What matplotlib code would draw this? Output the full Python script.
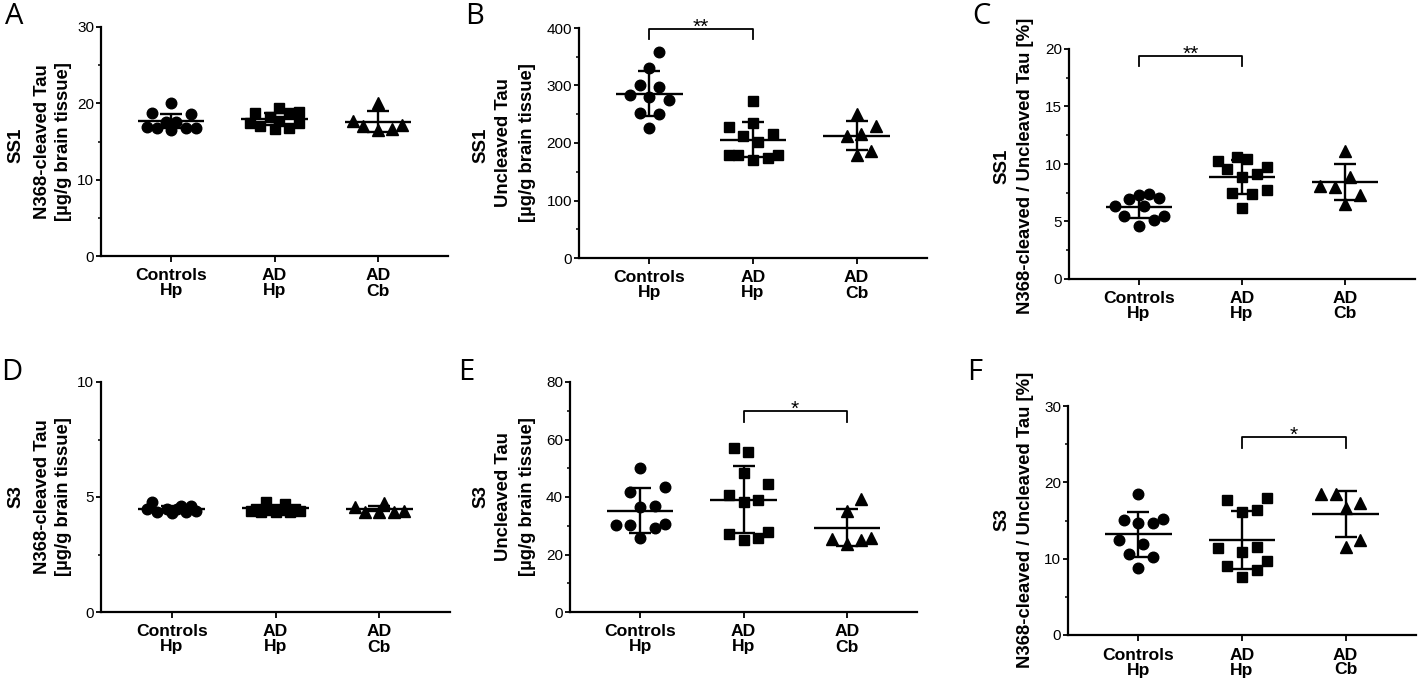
import numpy as np
import matplotlib
matplotlib.use("Agg")
import matplotlib.pyplot as plt
from matplotlib.ticker import MultipleLocator

plt.rcParams['font.family'] = ['Liberation Sans', 'DejaVu Sans']

categories = ["Controls\nHp", "AD\nHp", "AD\nCb"]
markers = ["o", "s", "^"]

# ---- Panel A: SS1, N368-cleaved Tau [ug/g] ----
a_ctrl = [17.5, 18.65, 18.7, 20.0, 17.5, 16.8, 16.8, 16.5, 16.8, 16.9]
a_adhp = [18.2, 19.35, 18.7, 18.7, 18.9, 17.7, 17.4, 17.0, 16.7, 16.8, 17.4]
a_adcb = [17.7, 20.0, 17.0, 16.5, 16.7, 17.2]
a_mean = [17.7, 17.95, 17.6]
a_sd = [0.95, 0.8, 1.4]

# ---- Panel B: SS1, Uncleaved Tau [ug/g] ----
b_ctrl = [358, 331, 297, 301, 280, 274, 284, 251, 253, 226]
b_adhp = [273, 235, 227, 213, 216, 202, 180, 179, 171, 174, 180]
b_adcb = [251, 229, 215, 212, 186, 179]
b_mean = [286, 206, 213]
b_sd = [38.5, 30.5, 26]

# ---- Panel C: SS1, ratio [%] ----
c_ctrl = [7.39, 7.04, 6.96, 7.28, 6.32, 6.32, 5.51, 5.1, 5.51, 4.64]
c_adhp = [9.59, 10.43, 10.29, 10.61, 9.71, 8.84, 9.16, 7.71, 7.42, 7.48, 6.17]
c_adcb = [11.1, 8.87, 8.06, 7.97, 7.33, 6.52]
c_mean = [6.23, 8.87, 8.41]
c_sd = [0.95, 1.48, 1.56]

# ---- Panel D: S3, N368-cleaved Tau [ug/g] ----
d_ctrl = [4.46, 4.46, 4.61, 4.32, 4.78, 4.49, 4.38, 4.61, 4.35, 4.35]
d_adhp = [4.78, 4.71, 4.49, 4.42, 4.35, 4.39, 4.46, 4.39, 4.35, 4.35, 4.42]
d_adcb = [4.57, 4.74, 4.35, 4.35, 4.35, 4.38]
d_mean = [4.49, 4.52, 4.49]
d_sd = [0.1, 0.12, 0.12]

# ---- Panel E: S3, Uncleaved Tau [ug/g] ----
e_ctrl = [50.2, 41.9, 43.4, 36.9, 36.6, 30.5, 30.1, 29.1, 30.1, 25.6]
e_adhp = [57.2, 55.6, 48.5, 44.5, 38.95, 38.3, 40.7, 27.0, 25.0, 25.8, 27.9]
e_adcb = [39.2, 35.1, 25.3, 23.6, 25.0, 25.6]
e_mean = [35.3, 39.1, 29.3]
e_sd = [7.8, 11.6, 6.5]

# ---- Panel F: S3, ratio [%] ----
f_ctrl = [18.45, 15.05, 14.7, 14.7, 15.26, 12.5, 11.9, 10.6, 10.16, 8.8]
f_adhp = [17.75, 18.0, 16.14, 16.44, 11.47, 10.82, 11.34, 9.03, 9.68, 8.5, 7.63]
f_adcb = [18.45, 18.45, 17.3, 16.66, 12.5, 11.56]
f_mean = [13.2, 12.43, 15.87]
f_sd = [2.93, 3.84, 3.01]

# significance: (group1, group2, bracket y, leg bottom y, label)
b_sig = (0, 1, 398, 380, "**")
c_sig = (0, 1, 19.36, 18.55, "**")
e_sig = (1, 2, 69.8, 66.0, "*")
f_sig = (1, 2, 25.9, 24.55, "*")

W, H = 1418, 687
fig = plt.figure(figsize=(W / 100, H / 100), dpi=100)


def px_rect(left, top, right, bottom):
    return [left / W, 1 - bottom / H, (right - left) / W, (bottom - top) / H]


def swarm(ax, x0, vals, diam, cap, yfac=2.2, xfac=1.25):
    """Deterministic scatter spreading (GraphPad-like) in pixel space."""
    trans = ax.transData
    ypx = np.array([trans.transform((x0, v))[1] for v in vals])
    xs = trans.transform((1, 0))[0] - trans.transform((0, 0))[0]
    capx = cap * xs
    step = diam * 0.5
    n = int(capx // step)
    cands = [0.0]
    for k in range(1, n + 1):
        cands += [k * step, -k * step]
    dxm, dym = diam * xfac, diam * yfac
    placed = []
    offs = np.zeros(len(vals))
    for i in np.argsort(ypx):
        best, bestd, chosen = 0.0, -1, None
        for c in cands:
            d = min([np.hypot((c - px) / dxm, (ypx[i] - py) / dym) for px, py in placed],
                    default=1e9)
            if d >= 1.0:
                chosen = c
                break
            if d > bestd + 1e-9:
                bestd, best = d, c
        if chosen is None:
            chosen = best
        placed.append((chosen, ypx[i]))
        offs[i] = chosen / xs
    return x0 + offs


def panel(rect, groups, means, sds, ylim, major, minor, letter, letter_xy,
          row_label, ylines, ylabel_xy, sig=None):
    ax = fig.add_axes(px_rect(*rect))
    ax.set_xlim(-0.68, 2.68)
    ax.set_ylim(*ylim)
    for s in ["top", "right"]:
        ax.spines[s].set_visible(False)
    for s in ["left", "bottom"]:
        ax.spines[s].set_linewidth(1.6)
    ax.yaxis.set_major_locator(MultipleLocator(major))
    ax.yaxis.set_minor_locator(MultipleLocator(minor))
    ax.tick_params(axis="y", which="major", length=3.5, width=1.3, labelsize=11,
                   pad=1.5, direction="out")
    ax.tick_params(axis="y", which="minor", length=2.2, width=1.1, direction="out")
    ax.set_xticks(range(3))
    ax.set_xticklabels(categories, fontsize=12.6, fontweight="bold", linespacing=1.0)
    ax.tick_params(axis="x", length=4, width=1.3, pad=5)

    sizes = [7.6, 7.3, 8.6]
    for i, vals in enumerate(groups):
        xs = swarm(ax, i, vals, 9.8, 0.28)
        ax.plot(xs, vals, linestyle="none", marker=markers[i], ms=sizes[i],
                color="black", mec="black", zorder=3, clip_on=False)
        ax.hlines(means[i], i - 0.32, i + 0.32, color="black", lw=1.7, zorder=4)
        ax.errorbar(i, means[i], yerr=sds[i], fmt="none", ecolor="black",
                    elinewidth=1.7, capsize=8, capthick=1.7, zorder=4)

    if sig is not None:
        g1, g2, yb, yl, lab = sig
        ax.plot([g1, g1, g2, g2], [yl, yb, yb, yl], color="black", lw=1.3,
                clip_on=False, zorder=5)
        ax.annotate(lab, xy=((g1 + g2) / 2, yb), xytext=(0, -3.5),
                    textcoords="offset pixels", ha="center", va="baseline",
                    fontsize=15, annotation_clip=False)

    fig.text(letter_xy[0] / W, 1 - letter_xy[1] / H, letter, fontsize=21,
             family=["Open Sans", "DejaVu Sans"], ha="center", va="center")
    fig.text(ylabel_xy[0][0] / W, 1 - ylabel_xy[0][1] / H, row_label, rotation=90,
             fontsize=13.5, fontweight="bold", ha="center", va="center")
    for (lx, ly), txt in zip(ylabel_xy[1:], ylines):
        fig.text(lx / W, 1 - ly / H, txt, rotation=90, fontsize=13.3,
                 fontweight="bold", ha="center", va="center")
    return ax


panel((101, 27, 448, 256), [a_ctrl, a_adhp, a_adcb], a_mean, a_sd, (0, 30), 10, 5,
      "A", (14, 17), "SS1", ["N368-cleaved Tau", "[µg/g brain tissue]"],
      [(16, 145), (43, 142), (63, 142)])
panel((579, 28, 927, 258), [b_ctrl, b_adhp, b_adcb], b_mean, b_sd, (0, 400), 100, 50,
      "B", (475, 17), "SS1", ["Uncleaved Tau", "[µg/g brain tissue]"],
      [(481, 145), (504, 143), (527, 143)], sig=b_sig)
panel((1069, 49, 1415, 279), [c_ctrl, c_adhp, c_adcb], c_mean, c_sd, (0, 20), 5, 2.5,
      "C", (981, 16), "SS1", ["N368-cleaved / Uncleaved Tau [%]"],
      [(1002, 166), (1026, 166)], sig=c_sig)
panel((101, 382, 450, 612), [d_ctrl, d_adhp, d_adcb], d_mean, d_sd, (0, 10), 5, 2.5,
      "D", (12, 372), "S3", ["N368-cleaved Tau", "[µg/g brain tissue]"],
      [(16, 497), (43, 497), (63, 497)])
panel((570, 382, 917, 612), [e_ctrl, e_adhp, e_adcb], e_mean, e_sd, (0, 80), 20, 10,
      "E", (466, 372), "S3", ["Uncleaved Tau", "[µg/g brain tissue]"],
      [(481, 497), (504, 497), (527, 497)], sig=e_sig)
panel((1068, 406, 1416, 635), [f_ctrl, f_adhp, f_adcb], f_mean, f_sd, (0, 30), 10, 5,
      "F", (975, 373), "S3", ["N368-cleaved / Uncleaved Tau [%]"],
      [(1002, 520), (1026, 520)], sig=f_sig)

fig.savefig("out.png", dpi=100)
